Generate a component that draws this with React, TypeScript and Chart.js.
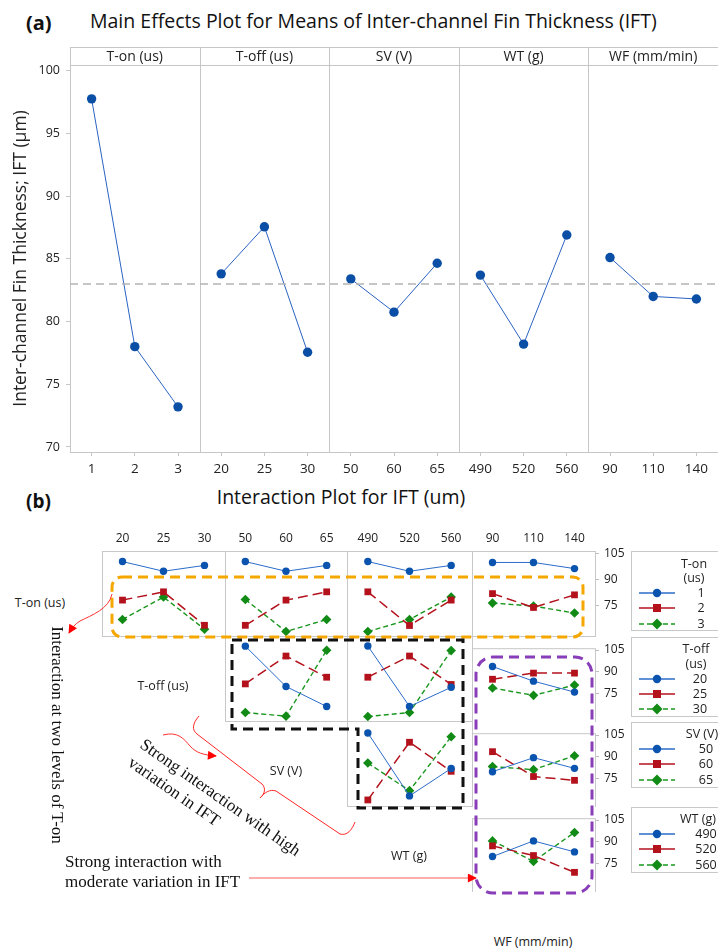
import React, { useEffect, useRef } from "react";
import { Chart, registerables } from "chart.js";
Chart.register(...registerables);

Chart.defaults.font.family = "'Open Sans', sans-serif";
Chart.defaults.color = "#222";

// ---------- DATA ----------
const mainFactors = ["T-on (us)", "T-off (us)", "SV (V)", "WT (g)", "WF (mm/min)"];
const tonLevels = ["1", "2", "3"];
const toffLevels = ["20", "25", "30"];
const svLevels = ["50", "60", "65"];
const wtLevels = ["490", "520", "560"];
const wfLevels = ["90", "110", "140"];

const meanTon = [97.75, 78.0, 73.2];
const meanToff = [83.8, 87.55, 77.55];
const meanSv = [83.4, 80.75, 84.65];
const meanWt = [83.7, 78.2, 86.9];
const meanWf = [85.1, 82.0, 81.8];
const grandMean = 83.0;

const mainYTicks = [70, 75, 80, 85, 90, 95, 100];
const miniYTicks = [75, 90, 105];

// interaction means: rows = levels of the series factor, columns = levels of the x factor
const tonByToff = [[101.0, 96.2, 99.1], [81.9, 86.0, 69.4], [72.3, 83.4, 67.5]];
const tonBySv = [[101.0, 96.2, 99.1], [69.4, 81.9, 86.0], [82.2, 66.3, 72.3]];
const tonByWt = [[101.0, 96.2, 99.1], [86.0, 69.3, 81.9], [66.3, 72.3, 83.4]];
const tonByWf = [[99.7, 99.7, 96.2], [81.9, 74.0, 81.2], [76.5, 74.8, 70.8]];
const toffBySv = [[101.2, 81.2, 71.3], [82.5, 96.3, 85.8], [68.3, 66.5, 99.2]];
const toffByWt = [[101.3, 71.3, 80.8], [85.8, 96.3, 82.2], [66.3, 68.3, 99.0]];
const toffByWf = [[93.7, 83.7, 76.2], [85.0, 89.2, 89.2], [79.0, 74.0, 81.0]];
const svByWt = [[100.3, 69.1, 82.7], [67.1, 95.7, 81.3], [85.4, 71.7, 98.4]];
const svByWf = [[79.9, 89.5, 82.2], [93.6, 76.6, 74.0], [83.4, 81.3, 90.8]];
const wtByWf = [[80.0, 90.7, 83.2], [87.3, 80.7, 69.2], [90.7, 76.7, 96.5]];

// ---------- LAYOUT / STYLE ----------
const COLS = [102, 225, 347, 472, 595];
const ROWS = [551, 636, 721, 806, 891];
const MINI_MIN = 64.1;
const MINI_MAX = 106.24;

const seriesStyle = [
  { point: "#0a53ae", line: "#2b6cc9", pointStyle: "circle", radius: 3.7, width: 1, dash: [] as number[] },
  { point: "#b3121c", line: "#b3121c", pointStyle: "rect", radius: 4.8, width: 1.5, dash: [10, 5] },
  { point: "#128a16", line: "#1a961e", pointStyle: "rectRot", radius: 4.8, width: 1.4, dash: [5, 3] },
];

const cells = [
  { r: 0, c: 0, data: tonByToff, x: toffLevels },
  { r: 0, c: 1, data: tonBySv, x: svLevels },
  { r: 0, c: 2, data: tonByWt, x: wtLevels },
  { r: 0, c: 3, data: tonByWf, x: wfLevels },
  { r: 1, c: 1, data: toffBySv, x: svLevels },
  { r: 1, c: 2, data: toffByWt, x: wtLevels },
  { r: 1, c: 3, data: toffByWf, x: wfLevels },
  { r: 2, c: 2, data: svByWt, x: wtLevels },
  { r: 2, c: 3, data: svByWf, x: wfLevels },
  { r: 3, c: 3, data: wtByWf, x: wfLevels },
];

const legends = [
  { title: ["T-on", "(us)"], levels: tonLevels, top: 551, h: 80, tx: 693, lx: 700 },
  { title: ["T-off", "(us)"], levels: toffLevels, top: 636.5, h: 80, tx: 695, lx: 699 },
  { title: ["SV (V)"], levels: svLevels, top: 721.5, h: 66, tx: 701, lx: 705 },
  { title: ["WT (g)"], levels: wtLevels, top: 806.5, h: 66, tx: 697, lx: 705 },
];

const rowLabels = [
  { t: "T-on (us)", x: 40, y: 603 },
  { t: "T-off (us)", x: 163, y: 686 },
  { t: "SV (V)", x: 286, y: 771 },
  { t: "WT (g)", x: 409, y: 856 },
  { t: "WF (mm/min)", x: 533, y: 942 },
];

// ---------- MAIN EFFECTS CHART ----------
function MainChart() {
  const ref = useRef<HTMLCanvasElement>(null);
  useEffect(() => {
    const means = [meanTon, meanToff, meanSv, meanWt, meanWf];
    const levels = [tonLevels, toffLevels, svLevels, wtLevels, wfLevels];
    const allLabels = levels.flat();
    const datasets: any[] = [
      {
        data: [{ x: 0, y: grandMean }, { x: 15, y: grandMean }],
        borderColor: "#b4b4b4",
        borderWidth: 1.5,
        borderDash: [8, 5],
        pointRadius: 0,
      },
    ];
    means.forEach((arr, k) =>
      datasets.push({
        data: arr.map((v, i) => ({ x: 3 * k + i + 0.5, y: v })),
        borderColor: "#2a62c2",
        borderWidth: 1,
        pointRadius: 4.7,
        pointBackgroundColor: "#0b4ea6",
        pointBorderColor: "#0b4ea6",
        pointBorderWidth: 0,
      })
    );
    const frame = {
      id: "mainFrame",
      beforeDatasetsDraw(chart: any) {
        const { ctx, chartArea: a, scales } = chart;
        const x = scales.x;
        const hTop = 47;
        ctx.save();
        ctx.strokeStyle = "#c6c6c6";
        ctx.lineWidth = 1;
        ctx.beginPath();
        ctx.moveTo(a.left, hTop + 0.5);
        ctx.lineTo(a.right, hTop + 0.5);
        ctx.moveTo(a.left, a.top + 0.5);
        ctx.lineTo(a.right, a.top + 0.5);
        ctx.moveTo(a.left, a.bottom + 0.5);
        ctx.lineTo(a.right, a.bottom + 0.5);
        for (let k = 0; k < 5; k++) {
          const px = Math.round(x.getPixelForValue(3 * k)) + 0.5;
          ctx.moveTo(px, hTop);
          ctx.lineTo(px, a.bottom + 1);
        }
        ctx.stroke();
        ctx.fillStyle = "#222";
        ctx.font = "14px 'Open Sans'";
        ctx.textAlign = "center";
        ctx.textBaseline = "middle";
        mainFactors.forEach((f, k) => ctx.fillText(f, x.getPixelForValue(3 * k + 1.5), (hTop + a.top) / 2 + 1));
        ctx.restore();
      },
    };
    const chart = new Chart(ref.current!, {
      type: "line",
      data: { datasets },
      options: {
        responsive: false,
        animation: false,
        layout: { padding: { top: 65, left: 0, right: 0, bottom: 0 }, autoPadding: false },
        plugins: { legend: { display: false }, tooltip: { enabled: false } },
        scales: {
          x: {
            type: "linear",
            min: 0,
            max: 15,
            grid: { drawOnChartArea: false, tickLength: 4, color: "#c6c6c6" },
            border: { display: false },
            ticks: {
              padding: 5,
              font: { size: 13.5 },
              color: "#222",
              maxRotation: 0,
              autoSkip: false,
              callback: (v: any) => allLabels[Math.round(Number(v) - 0.5)],
            },
            afterBuildTicks: (s: any) => {
              s.ticks = allLabels.map((_, i) => ({ value: i + 0.5 }));
            },
            afterFit: (s: any) => {
              s.height = 28;
            },
          },
          y: {
            min: 69.6,
            max: 100.45,
            grid: { drawOnChartArea: false, tickLength: 4, color: "#c6c6c6" },
            border: { display: false },
            ticks: { padding: 6, font: { size: 12.5 }, color: "#222" },
            afterBuildTicks: (s: any) => {
              s.ticks = mainYTicks.map((v) => ({ value: v }));
            },
            afterFit: (s: any) => {
              s.width = 70;
            },
            title: {
              display: true,
              text: "Inter-channel Fin Thickness; IFT (µm)",
              font: { size: 17.5 },
              color: "#222",
              padding: { top: 11, bottom: 0 },
            },
          },
        },
      },
      plugins: [frame],
    } as any);
    return () => chart.destroy();
  }, []);
  return <canvas ref={ref} width={718} height={480} style={{ position: "absolute", left: 0, top: 0, width: 718, height: 480 }} />;
}

// ---------- INTERACTION CELL ----------
function MiniChart({ r, c, data, xLabels }: { r: number; c: number; data: number[][]; xLabels: string[] }) {
  const ref = useRef<HTMLCanvasElement>(null);
  const showTop = r === 0;
  const showRight = c === 3;
  const cw = COLS[c + 1] - COLS[c];
  const ch = ROWS[r + 1] - ROWS[r];
  const W = cw + (showRight ? 40 : 1);
  const H = ch + 1 + (showTop ? 30 : 0);
  useEffect(() => {
    const border = {
      id: "cellBorder",
      beforeDatasetsDraw(chart: any) {
        const { ctx, chartArea: a } = chart;
        ctx.save();
        ctx.strokeStyle = "#c8c8c8";
        ctx.lineWidth = 1;
        ctx.strokeRect(a.left + 0.5, a.top + 0.5, cw, ch);
        ctx.restore();
      },
    };
    const chart = new Chart(ref.current!, {
      type: "line",
      data: {
        datasets: data.map((vals, i) => ({
          data: vals.map((v, j) => ({ x: j + 0.5, y: v })),
          borderColor: seriesStyle[i].line,
          borderWidth: seriesStyle[i].width,
          borderDash: seriesStyle[i].dash,
          pointStyle: seriesStyle[i].pointStyle,
          pointRadius: seriesStyle[i].radius,
          pointBackgroundColor: seriesStyle[i].point,
          pointBorderColor: seriesStyle[i].point,
          pointBorderWidth: 0,
          clip: false,
        })),
      },
      options: {
        responsive: false,
        animation: false,
        layout: { padding: { top: 0, left: 0, right: showRight ? 0 : 1, bottom: 1 }, autoPadding: false },
        plugins: { legend: { display: false }, tooltip: { enabled: false } },
        scales: {
          x: {
            type: "linear",
            position: "top",
            display: showTop,
            min: 0,
            max: 3,
            grid: { display: false, drawTicks: false },
            border: { display: false },
            ticks: {
              padding: 5,
              font: { size: 12 },
              color: "#222",
              maxRotation: 0,
              autoSkip: false,
              callback: (v: any) => xLabels[Math.round(Number(v) - 0.5)],
            },
            afterBuildTicks: (s: any) => {
              s.ticks = xLabels.map((_, i) => ({ value: i + 0.5 }));
            },
            afterFit: (s: any) => {
              s.height = showTop ? 30 : 0;
            },
          },
          y: {
            position: "right",
            display: showRight,
            min: MINI_MIN,
            max: MINI_MAX,
            grid: { drawOnChartArea: false, tickLength: 4, color: "#bdbdbd" },
            border: { display: false },
            ticks: { padding: 5, font: { size: 12 }, color: "#222" },
            afterBuildTicks: (s: any) => {
              s.ticks = miniYTicks.map((v) => ({ value: v }));
            },
            afterFit: (s: any) => {
              s.width = showRight ? 40 : 0;
            },
          },
        },
      },
      plugins: [border],
    } as any);
    return () => chart.destroy();
  }, []);
  return (
    <canvas
      ref={ref}
      width={W}
      height={H}
      style={{ position: "absolute", left: COLS[c], top: ROWS[r] - (showTop ? 30 : 0), width: W, height: H }}
    />
  );
}

// ---------- LEGEND ----------
function Sample({ i }: { i: number }) {
  const s = seriesStyle[i];
  const cx = 18;
  let marker: any;
  if (s.pointStyle === "circle") marker = <circle cx={cx} cy={6} r={4.2} fill={s.point} />;
  else if (s.pointStyle === "rect") marker = <rect x={cx - 4} y={2} width={8} height={8} fill={s.point} />;
  else marker = <path d={`M${cx},0.5 L${cx + 5.5},6 L${cx},11.5 L${cx - 5.5},6 Z`} fill={s.point} />;
  return (
    <svg width={36} height={12} style={{ position: "absolute", left: 0, top: 0 }}>
      <line x1={0} y1={6} x2={36} y2={6} stroke={s.line} strokeWidth={1.6} strokeDasharray={i === 2 ? "5 3" : undefined} />
      {marker}
    </svg>
  );
}

const txt = (extra: any) => ({
  position: "absolute" as const,
  whiteSpace: "nowrap" as const,
  lineHeight: 1,
  fontFamily: "'Open Sans', sans-serif",
  color: "#222",
  ...extra,
});

function Legend({ lg }: { lg: (typeof legends)[number] }) {
  const two = lg.title.length === 2;
  const itemY0 = two ? 41 : 26.5;
  return (
    <div style={{ position: "absolute", left: 631, top: lg.top, width: 100, height: lg.h, border: "1px solid #c8c8c8", boxSizing: "border-box" }}>
      {lg.title.map((t, k) => (
        <div key={k} style={txt({ left: lg.tx - 631, top: 11.5 + k * 14.5, fontSize: 12.5, transform: "translate(-50%,-50%)" })}>
          {t}
        </div>
      ))}
      {lg.levels.map((lv, i) => (
        <React.Fragment key={lv}>
          <div style={{ position: "absolute", left: 7, top: itemY0 + i * 15.3 - 6, width: 36, height: 12 }}>
            <Sample i={i} />
          </div>
          <div style={txt({ left: lg.lx - 631, top: itemY0 + i * 15.3, fontSize: 12.5, transform: "translate(-50%,-50%)" })}>{lv}</div>
        </React.Fragment>
      ))}
    </div>
  );
}

// ---------- ANNOTATIONS ----------
function Annotations() {
  const serif = "'Liberation Serif', 'Times New Roman', serif";
  return (
    <svg width={718} height={948} style={{ position: "absolute", left: 0, top: 0, pointerEvents: "none" }}>
      <defs>
        <marker id="ah" viewBox="0 0 10 10" refX="9" refY="5" markerWidth="11" markerHeight="9" markerUnits="userSpaceOnUse" orient="auto">
          <path d="M0,0 L10,5 L0,10 z" fill="#ff0000" />
        </marker>
      </defs>
      <rect x={112} y={577} width={471} height={60} rx={10} fill="none" stroke="#f5a700" strokeWidth={3} strokeDasharray="10 6" />
      <path d="M232,640 H463 V808 H358 V729 H232 Z" fill="none" stroke="#111" strokeWidth={3} strokeDasharray="10 6" />
      <rect x={476} y={657} width={116} height={236} rx={17} fill="none" stroke="#8a3db8" strokeWidth={3} strokeDasharray="10 6" />
      <path d="M112,594 C109,609 92,615 80,621 C75,624 72,628 69,633" fill="none" stroke="#ff3030" strokeWidth={1} markerEnd="url(#ah)" />
      <path d="M163,735 C178,731 184,739 190,746 C196,753 204,755 216,756" fill="none" stroke="#ff3030" strokeWidth={1} markerEnd="url(#ah)" />
      <path
        d="M199,716 C192,724 192,730 197,734 L262,784 C266,788 265,794 260,798 C265,792 270,789 276,791 L340,834 C347,836 352,830 355,822"
        fill="none"
        stroke="#ff2525"
        strokeWidth={1}
      />
      <line x1={249} y1={878} x2={476} y2={878} stroke="#ff5a5a" strokeWidth={1.2} markerEnd="url(#ah)" />
      <text x={0} y={0} transform="translate(57,735) rotate(90)" textAnchor="middle" dominantBaseline="central" fontFamily={serif} fontSize={17} fill="#111">
        Interaction at two levels of T-on
      </text>
      <text x={0} y={0} transform="translate(139,747) rotate(35)" fontFamily={serif} fontSize={17} fill="#111">
        Strong interaction with high
      </text>
      <text x={0} y={0} transform="translate(127,765) rotate(35)" fontFamily={serif} fontSize={17} fill="#111">
        variation in IFT
      </text>
      <text x={65} y={867} fontFamily={serif} fontSize={17} fill="#111">
        Strong interaction with
      </text>
      <text x={65} y={887} fontFamily={serif} fontSize={17} fill="#111">
        moderate variation in IFT
      </text>
    </svg>
  );
}

export default function App() {
  return (
    <div style={{ position: "absolute", left: 0, top: 0, width: 718, height: 948, overflow: "hidden", background: "#fff" }}>
      <div style={txt({ left: 26, top: 23, fontSize: 20, fontWeight: 700, color: "#111", transform: "translate(0,-50%)" })}>(a)</div>
      <div style={txt({ left: 90, top: 21, fontSize: 19.5, color: "#111", transform: "translate(0,-50%)" })}>
        Main Effects Plot for Means of Inter-channel Fin Thickness (IFT)
      </div>
      <MainChart />
      <div style={txt({ left: 26, top: 501, fontSize: 19, fontWeight: 700, color: "#111", transform: "translate(0,-50%)" })}>(b)</div>
      <div style={txt({ left: 341, top: 497, fontSize: 19.5, color: "#111", transform: "translate(-50%,-50%)" })}>
        Interaction Plot for IFT (um)
      </div>
      {cells.map((cl) => (
        <MiniChart key={`${cl.r}-${cl.c}`} r={cl.r} c={cl.c} data={cl.data} xLabels={cl.x} />
      ))}
      {legends.map((lg, k) => (
        <Legend key={k} lg={lg} />
      ))}
      {rowLabels.map((rl) => (
        <div key={rl.t} style={txt({ left: rl.x, top: rl.y, fontSize: 12.5, transform: "translate(-50%,-50%)" })}>
          {rl.t}
        </div>
      ))}
      <Annotations />
    </div>
  );
}
